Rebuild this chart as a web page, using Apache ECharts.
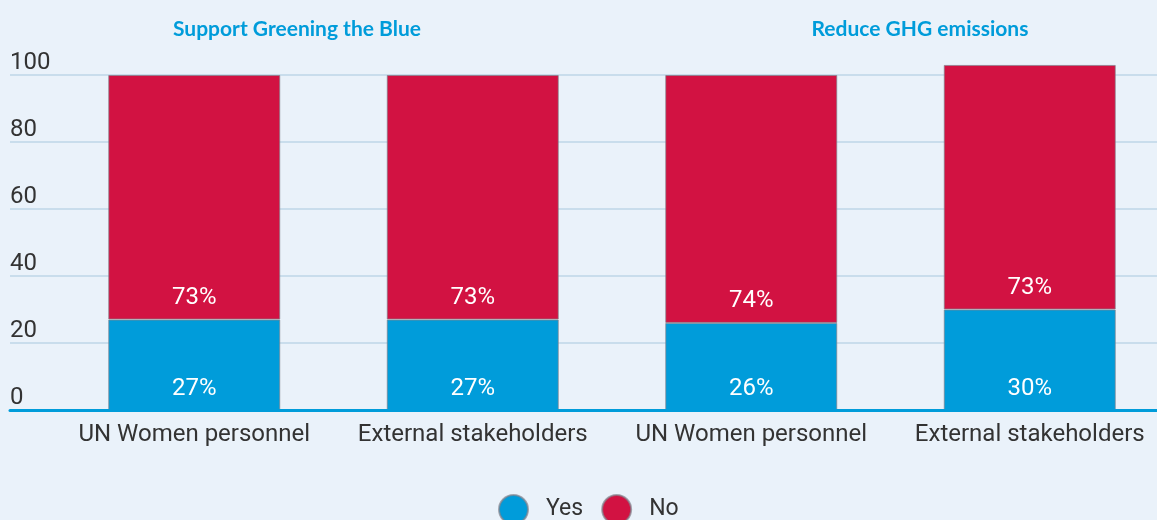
<!DOCTYPE html>
<html>
<head>
<meta charset="utf-8">
<script src="https://cdn.jsdelivr.net/npm/echarts@6/dist/echarts.min.js"></script>
<style>
html,body{margin:0;padding:0;background:#EAF2FA;overflow:hidden;width:1157px;height:520px;}
#chart{width:1170px;height:520px;}
</style>
</head>
<body>
<div id="chart"></div>
<script>
const categories = ['UN Women personnel', 'External stakeholders', 'UN Women personnel', 'External stakeholders'];
const yesValues = [27, 27, 26, 30];
const noValues = [73, 73, 74, 73];
const groupTitles = ['Support Greening the Blue', 'Reduce GHG emissions'];
const seriesNames = ['Yes', 'No'];

const BLUE = '#009CDA';
const RED = '#D21242';
const font = 'Roboto';

const chart = echarts.init(document.getElementById('chart'));
chart.setOption({
  backgroundColor: '#EAF2FA',
  animation: false,
  title: [
    { text: groupTitles[0], left: 292, top: 14, textAlign: 'center',
      textStyle: { color: BLUE, fontFamily: 'Lato', fontWeight: 'bold', fontSize: 21 } },
    { text: groupTitles[1], left: 915, top: 14, textAlign: 'center',
      textStyle: { color: BLUE, fontFamily: 'Lato', fontWeight: 'bold', fontSize: 21 } }
  ],
  legend: {
    left: 498, top: 494, padding: 0,
    icon: 'circle', itemWidth: 29, itemHeight: 29, itemGap: 18,
    data: seriesNames,
    textStyle: { fontFamily: font, fontSize: 23, color: '#333', padding: [0, 0, 0, 13] }
  },
  grid: [
    { left: 55, right: 1, top: 75, bottom: 110 },
    { left: 10, right: 0, top: 75, bottom: 110 }
  ],
  xAxis: [
    { type: 'category', gridIndex: 0, data: categories,
      axisLine: { show: false }, axisTick: { show: false },
      axisLabel: { fontFamily: font, fontSize: 24, color: '#333', margin: 13, interval: 0 } },
    { type: 'category', gridIndex: 1, data: [''], z: 5,
      axisLine: { show: true, lineStyle: { color: BLUE, width: 3 } },
      axisTick: { show: false }, axisLabel: { show: false } }
  ],
  yAxis: [
    { type: 'value', gridIndex: 0, min: 0, max: 100, interval: 20, show: false, splitLine: { show: false } },
    { type: 'value', gridIndex: 1, min: 0, max: 100, interval: 20,
      axisLine: { show: false }, axisTick: { show: false },
      splitLine: { lineStyle: { color: '#C9DDEC', width: 2 } },
      axisLabel: { inside: true, margin: 0, align: 'left', verticalAlign: 'bottom',
        padding: [0, 0, 0, 0], fontFamily: font, fontSize: 24, color: '#333' } }
  ],
  series: [
    { name: seriesNames[0], type: 'bar', stack: 'total', data: yesValues, barWidth: 172, clip: false,
      itemStyle: { color: BLUE, borderColor: 'rgba(130,130,140,0.7)', borderWidth: 1 },
      label: { show: true, position: 'insideBottom', distance: 9, formatter: '{c}%',
        color: '#fff', fontFamily: font, fontSize: 24 } },
    { name: seriesNames[1], type: 'bar', stack: 'total', data: noValues, barWidth: 172, clip: false,
      itemStyle: { color: RED, borderColor: 'rgba(130,130,140,0.7)', borderWidth: 1 },
      label: { show: true, position: 'insideBottom', distance: 10, formatter: '{c}%',
        color: '#fff', fontFamily: font, fontSize: 24 } }
  ]
});
</script>
</body>
</html>
